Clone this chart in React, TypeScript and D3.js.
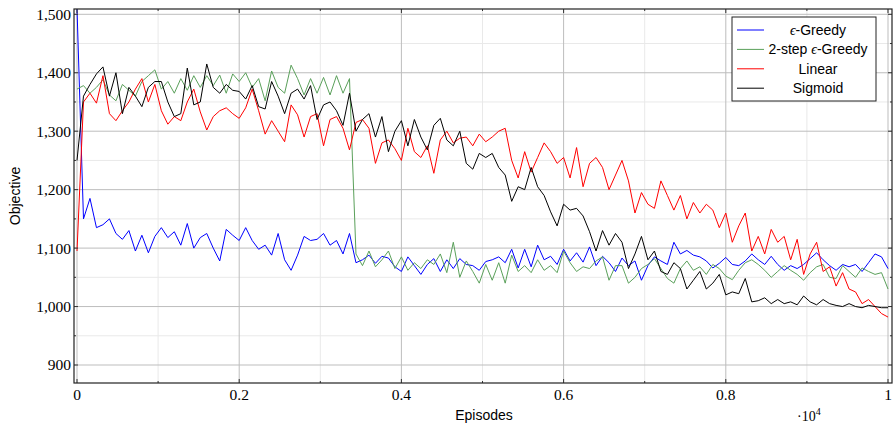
import { useEffect, useRef } from "react";
import * as d3 from "d3";

// episodes sampled every 80 steps (0 .. 10000)
const episodes = d3.range(0, 10001, 80);

const greedy = [
  1510, 1150, 1185, 1135, 1140, 1150, 1125, 1115, 1130, 1095,
  1122, 1092, 1120, 1135, 1118, 1128, 1105, 1142, 1100, 1118,
  1125, 1100, 1078, 1132, 1122, 1113, 1135, 1113, 1098, 1105,
  1088, 1125, 1080, 1062, 1088, 1120, 1113, 1115, 1125, 1105,
  1113, 1090, 1125, 1075, 1080, 1088, 1074, 1086, 1083, 1068,
  1060, 1085, 1070, 1055, 1072, 1082, 1060, 1080, 1065, 1082,
  1072, 1070, 1062, 1077, 1080, 1085, 1075, 1098, 1066, 1098,
  1068, 1105, 1080, 1086, 1072, 1098, 1078, 1092, 1076, 1102,
  1070, 1086, 1075, 1060, 1083, 1070, 1078, 1045, 1070, 1085,
  1078, 1072, 1110, 1090, 1096, 1088, 1085, 1078, 1066, 1074,
  1084, 1072, 1070, 1078, 1090, 1080, 1072, 1086, 1072, 1062,
  1070, 1065, 1072, 1082, 1092, 1080, 1070, 1062, 1072, 1068,
  1072, 1060, 1075, 1090, 1085, 1065,
];

const twoStep = [
  1372, 1378, 1365, 1375, 1388, 1362, 1352, 1380, 1370, 1360,
  1385, 1395, 1405, 1372, 1385, 1365, 1390, 1370, 1395, 1375,
  1395, 1378, 1396, 1365, 1398, 1385, 1400, 1375, 1390, 1352,
  1403, 1375, 1365, 1413, 1390, 1362, 1390, 1365, 1392, 1362,
  1395, 1365, 1390, 1090, 1070, 1095, 1068, 1080, 1095, 1065,
  1085, 1062, 1075, 1065, 1080, 1072, 1090, 1058, 1110, 1050,
  1078, 1060, 1040, 1072, 1045, 1075, 1040, 1088, 1060, 1070,
  1058, 1080, 1062, 1070, 1058, 1095, 1075, 1060, 1068, 1065,
  1078, 1085, 1045, 1070, 1070, 1040, 1050, 1065, 1072, 1082,
  1065, 1048, 1040, 1065, 1078, 1062, 1068, 1055, 1072, 1065,
  1052, 1046, 1062, 1075, 1080, 1072, 1062, 1050, 1060, 1070,
  1062, 1055, 1045, 1058, 1068, 1072, 1050, 1048, 1070, 1060,
  1050, 1066, 1060, 1055, 1058, 1030,
];

const linear = [
  1095, 1350, 1365, 1348, 1395, 1330, 1318, 1335, 1350, 1372,
  1390, 1350, 1380, 1335, 1312, 1325, 1318, 1350, 1372, 1333,
  1302, 1325, 1335, 1340, 1330, 1322, 1340, 1372, 1335, 1295,
  1318, 1300, 1282, 1345, 1328, 1290, 1325, 1330, 1275, 1320,
  1325, 1305, 1268, 1315, 1320, 1305, 1245, 1280, 1285, 1270,
  1250, 1305, 1265, 1255, 1275, 1228, 1285, 1300, 1280, 1288,
  1290, 1275, 1295, 1282, 1290, 1300, 1305, 1250, 1220, 1265,
  1230, 1255, 1280, 1265, 1245, 1255, 1220, 1272, 1205, 1245,
  1255, 1238, 1200, 1225, 1250, 1215, 1160, 1195, 1175, 1168,
  1215, 1190, 1165, 1190, 1150, 1178, 1160, 1175, 1165, 1135,
  1160, 1110, 1138, 1160, 1095, 1120, 1090, 1132, 1110, 1120,
  1080, 1115, 1055, 1090, 1110, 1060, 1068, 1035, 1058, 1030,
  1025, 1005, 1012, 1000, 988, 982,
];

const sigmoid = [
  1250, 1360, 1380, 1398, 1410, 1360, 1400, 1330, 1375, 1360,
  1342, 1375, 1385, 1385, 1350, 1325, 1330, 1408, 1345, 1350,
  1415, 1375, 1365, 1380, 1370, 1368, 1355, 1378, 1342, 1338,
  1385, 1360, 1330, 1365, 1372, 1355, 1378, 1320, 1345, 1350,
  1335, 1310, 1365, 1300, 1320, 1330, 1290, 1325, 1265, 1300,
  1318, 1275, 1320, 1290, 1268, 1310, 1322, 1285, 1275, 1300,
  1245, 1235, 1262, 1255, 1262, 1238, 1225, 1180, 1205, 1200,
  1238, 1205, 1190, 1162, 1138, 1175, 1165, 1168, 1155, 1128,
  1095, 1130, 1105, 1125, 1110, 1065, 1090, 1120, 1080, 1095,
  1060, 1055, 1075, 1065, 1030, 1045, 1060, 1030, 1040, 1055,
  1020, 1025, 1022, 1048, 1008, 1010, 1015, 1005, 1012, 1005,
  1008, 1003, 1018, 1008, 1003, 1012, 1005, 1002, 1000, 1005,
  1000, 998, 1002, 1000, 998, 998,
];

const seriesNames = ["\u03f5-Greedy", "2-step \u03f5-Greedy", "Linear", "Sigmoid"];
const seriesColors = ["#0000ff", "#5aa05a", "#ff0000", "#000000"];
const seriesData = [greedy, twoStep, linear, sigmoid];

const yTicks = [900, 1000, 1100, 1200, 1300, 1400, 1500];
const yMinor = [950, 1050, 1150, 1250, 1350, 1450];
const xTicks = [0, 2000, 4000, 6000, 8000, 10000];
const xMinor = [1000, 3000, 5000, 7000, 9000];

export default function App() {
  const ref = useRef(null);

  useEffect(() => {
    const svg = d3.select(ref.current);
    svg.selectAll("*").remove();

    const box = { left: 74, right: 892, top: 9, bottom: 383 };

    const x = d3.scaleLinear().domain([0, 10000]).range([77, 888]);
    const y = d3.scaleLinear().domain([900, 1500]).range([365, 14.3]);

    const serif = "'Liberation Serif', 'DejaVu Serif', serif";
    const sans = "'Liberation Sans', 'DejaVu Sans', sans-serif";

    // grid
    const grid = svg.append("g");
    grid.selectAll(".xmin").data(xMinor).enter().append("line")
      .attr("x1", d => x(d)).attr("x2", d => x(d))
      .attr("y1", box.top).attr("y2", box.bottom)
      .attr("stroke", "#e9e9e9").attr("stroke-width", 1);
    grid.selectAll(".ymin").data(yMinor).enter().append("line")
      .attr("x1", box.left).attr("x2", box.right)
      .attr("y1", d => y(d)).attr("y2", d => y(d))
      .attr("stroke", "#e9e9e9").attr("stroke-width", 1);
    grid.selectAll(".xmaj").data(xTicks).enter().append("line")
      .attr("x1", d => x(d)).attr("x2", d => x(d))
      .attr("y1", box.top).attr("y2", box.bottom)
      .attr("stroke", "#bdbdbd").attr("stroke-width", 1);
    grid.selectAll(".ymaj").data(yTicks).enter().append("line")
      .attr("x1", box.left).attr("x2", box.right)
      .attr("y1", d => y(d)).attr("y2", d => y(d))
      .attr("stroke", "#bdbdbd").attr("stroke-width", 1);

    // lines
    svg.append("clipPath").attr("id", "plotclip")
      .append("rect")
      .attr("x", box.left).attr("y", box.top)
      .attr("width", box.right - box.left).attr("height", box.bottom - box.top);

    const line = d3.line<number>()
      .x((d, i) => x(episodes[i]))
      .y(d => y(d));

    const plot = svg.append("g").attr("clip-path", "url(#plotclip)");
    seriesData.forEach((vals, k) => {
      plot.append("path")
        .datum(vals)
        .attr("fill", "none")
        .attr("stroke", seriesColors[k])
        .attr("stroke-width", 1)
        .attr("stroke-linejoin", "round")
        .attr("d", line);
    });

    // ticks (inward, all four sides)
    const ticks = svg.append("g").attr("stroke", "#333").attr("stroke-width", 1);
    xTicks.forEach(d => {
      ticks.append("line").attr("x1", x(d)).attr("x2", x(d)).attr("y1", box.bottom).attr("y2", box.bottom - 4);
      ticks.append("line").attr("x1", x(d)).attr("x2", x(d)).attr("y1", box.top).attr("y2", box.top + 4);
    });
    xMinor.forEach(d => {
      ticks.append("line").attr("x1", x(d)).attr("x2", x(d)).attr("y1", box.bottom).attr("y2", box.bottom - 2);
      ticks.append("line").attr("x1", x(d)).attr("x2", x(d)).attr("y1", box.top).attr("y2", box.top + 2);
    });
    yTicks.forEach(d => {
      ticks.append("line").attr("x1", box.left).attr("x2", box.left + 4).attr("y1", y(d)).attr("y2", y(d));
      ticks.append("line").attr("x1", box.right).attr("x2", box.right - 4).attr("y1", y(d)).attr("y2", y(d));
    });
    yMinor.forEach(d => {
      ticks.append("line").attr("x1", box.left).attr("x2", box.left + 2).attr("y1", y(d)).attr("y2", y(d));
      ticks.append("line").attr("x1", box.right).attr("x2", box.right - 2).attr("y1", y(d)).attr("y2", y(d));
    });

    // frame
    svg.append("rect")
      .attr("x", box.left).attr("y", box.top)
      .attr("width", box.right - box.left).attr("height", box.bottom - box.top)
      .attr("fill", "none").attr("stroke", "#222").attr("stroke-width", 1.2);

    // tick labels
    svg.selectAll(".ylab").data(yTicks).enter().append("text")
      .attr("x", box.left - 3).attr("y", d => y(d))
      .attr("dy", "0.35em")
      .attr("text-anchor", "end")
      .attr("font-family", serif).attr("font-size", 15.5)
      .text(d => d3.format(",")(d));

    svg.selectAll(".xlab").data(xTicks).enter().append("text")
      .attr("x", d => x(d)).attr("y", 400)
      .attr("text-anchor", "middle")
      .attr("font-family", serif).attr("font-size", 15.5)
      .text(d => d === 0 ? "0" : d === 10000 ? "1" : d3.format(".1f")(d / 10000));

    // axis titles
    svg.append("text")
      .attr("x", 484).attr("y", 420)
      .attr("text-anchor", "middle")
      .attr("font-family", sans).attr("font-size", 14)
      .text("Episodes");

    const mult = svg.append("text")
      .attr("x", 797).attr("y", 421)
      .attr("font-family", serif).attr("font-size", 14);
    mult.append("tspan").text("\u00b710");
    mult.append("tspan").attr("dy", -6).attr("font-size", 10).text("4");

    svg.append("text")
      .attr("transform", "translate(20,196) rotate(-90)")
      .attr("text-anchor", "middle")
      .attr("font-family", sans).attr("font-size", 14)
      .text("Objective");

    // legend
    const lg = svg.append("g");
    lg.append("rect")
      .attr("x", 732).attr("y", 17).attr("width", 144).attr("height", 84)
      .attr("fill", "white").attr("stroke", "#222").attr("stroke-width", 1);
    seriesNames.forEach((name, k) => {
      const cy = 30 + k * 19.4;
      lg.append("line")
        .attr("x1", 737).attr("x2", 764).attr("y1", cy).attr("y2", cy)
        .attr("stroke", seriesColors[k]).attr("stroke-width", 1);
      const t = lg.append("text")
        .attr("x", 818).attr("y", cy).attr("dy", "0.35em")
        .attr("text-anchor", "middle")
        .attr("font-family", sans).attr("font-size", 14);
      const parts = name.split("\u03f5");
      if (parts.length > 1) {
        t.append("tspan").text(parts[0]);
        t.append("tspan").attr("font-family", serif).attr("font-style", "italic").text("\u03f5");
        t.append("tspan").text(parts[1]);
      } else {
        t.text(name);
      }
    });
  }, []);

  return (
    <div>
      <svg
        ref={ref}
        width={893}
        height={429}
        style={{ position: "absolute", left: 0, top: 0, background: "white" }}
      />
    </div>
  );
}
